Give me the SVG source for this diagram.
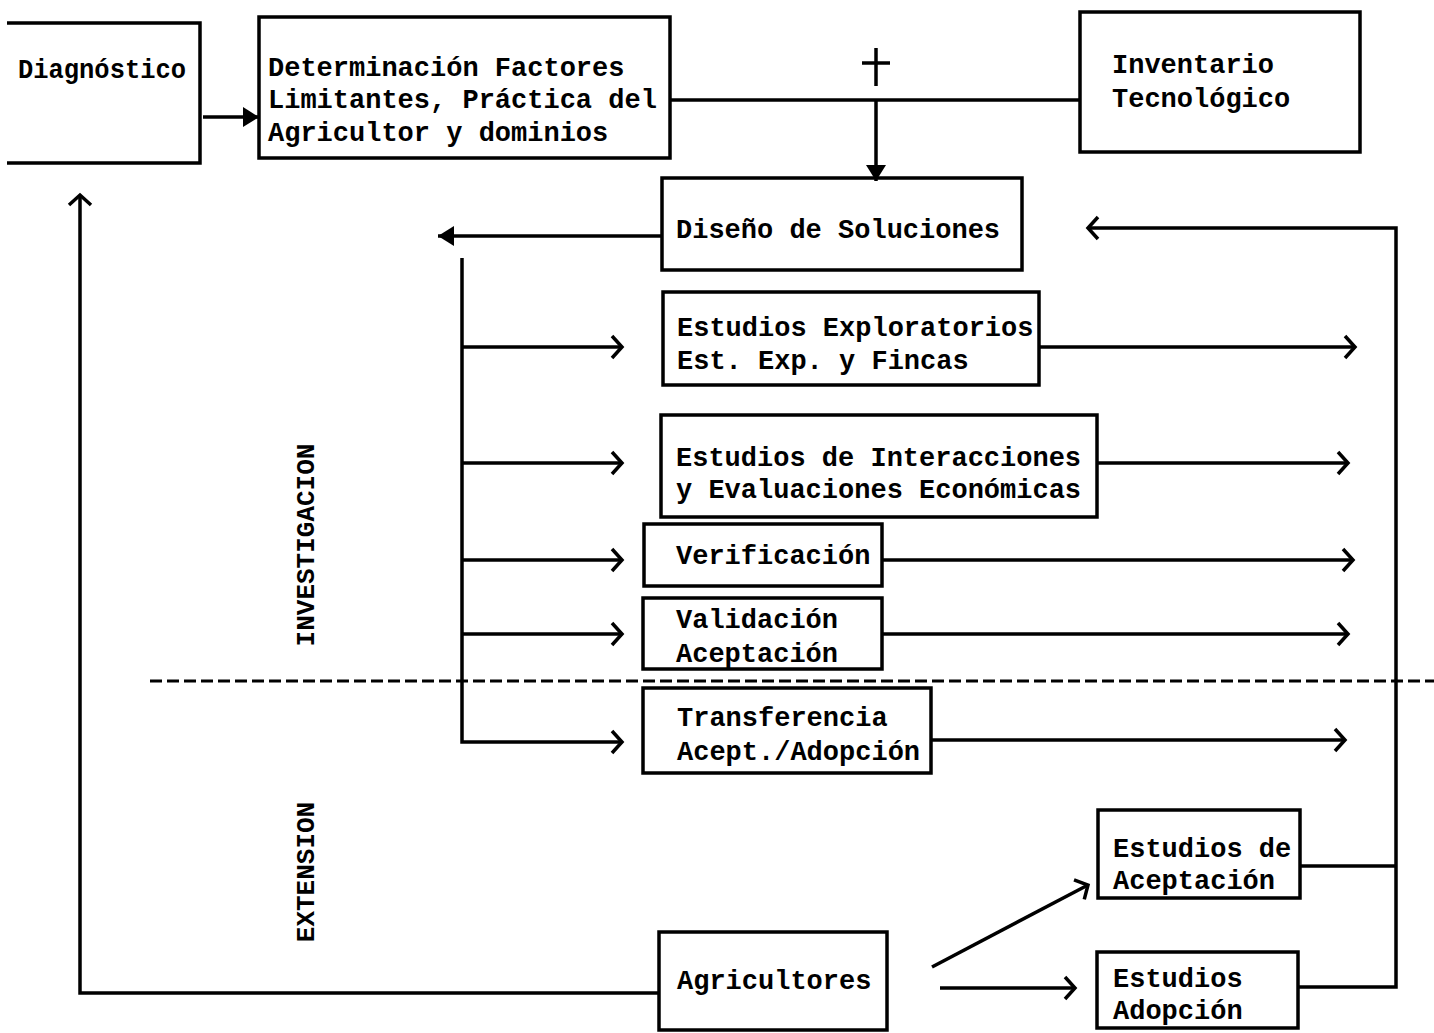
<svg xmlns="http://www.w3.org/2000/svg" width="1434" height="1033" viewBox="0 0 1434 1033">
<style>
.box{fill:none;stroke:#000;stroke-width:3.5}
.ln{fill:none;stroke:#000;stroke-width:3.5}
.t{font-family:"Liberation Mono","DejaVu Sans Mono",monospace;font-weight:bold;font-size:27px;fill:#000}
.v{font-family:"Liberation Mono","DejaVu Sans Mono",monospace;font-weight:bold;font-size:26px;fill:#000}
</style>
<defs>
<marker id="chev" markerUnits="userSpaceOnUse" markerWidth="20" markerHeight="28" refX="14" refY="12" orient="auto" viewBox="0 0 20 24">
<path d="M4,1 L14,12 L4,23" fill="none" stroke="#000" stroke-width="3.5"/>
</marker>
<marker id="tri" markerUnits="userSpaceOnUse" markerWidth="18" markerHeight="20" refX="16" refY="10" orient="auto" viewBox="0 0 18 20">
<path d="M0,0 L16,10 L0,20 z" fill="#000"/>
</marker>
</defs>
<rect width="1434" height="1033" fill="#fff"/>

<g id="connectors">
<line class="ln" x1="203" y1="117" x2="259" y2="117" marker-end="url(#tri)"/>
<line class="ln" x1="670" y1="100" x2="1080" y2="100"/>
<line class="ln" x1="876" y1="48" x2="876" y2="86"/>
<line class="ln" x1="862" y1="63" x2="890" y2="63"/>
<line class="ln" x1="876" y1="100" x2="876" y2="181" marker-end="url(#tri)"/>
<line class="ln" x1="662" y1="236" x2="438" y2="236" marker-end="url(#tri)"/>
<path class="ln" d="M462,258 V742 H622" marker-end="url(#chev)"/>
<line class="ln" x1="462" y1="347" x2="622" y2="347" marker-end="url(#chev)"/>
<line class="ln" x1="462" y1="463" x2="622" y2="463" marker-end="url(#chev)"/>
<line class="ln" x1="462" y1="560" x2="622" y2="560" marker-end="url(#chev)"/>
<line class="ln" x1="462" y1="634" x2="622" y2="634" marker-end="url(#chev)"/>
<line class="ln" x1="1039" y1="347" x2="1355" y2="347" marker-end="url(#chev)"/>
<line class="ln" x1="1097" y1="463" x2="1348" y2="463" marker-end="url(#chev)"/>
<line class="ln" x1="882" y1="560" x2="1353" y2="560" marker-end="url(#chev)"/>
<line class="ln" x1="882" y1="634" x2="1348" y2="634" marker-end="url(#chev)"/>
<line class="ln" x1="931" y1="740" x2="1345" y2="740" marker-end="url(#chev)"/>
<path class="ln" d="M1298,987 H1396 V228 H1088" marker-end="url(#chev)"/>
<line class="ln" x1="1300" y1="866" x2="1396" y2="866"/>
<path class="ln" d="M659,993 H80 V195" marker-end="url(#chev)"/>
<line class="ln" x1="932" y1="967" x2="1088" y2="885" marker-end="url(#chev)"/>
<line class="ln" x1="940" y1="988" x2="1075" y2="988" marker-end="url(#chev)"/>
<line x1="150" y1="681" x2="1434" y2="681" stroke="#000" stroke-width="3" stroke-dasharray="12,5"/>
</g>

<g id="diagnostico">
<path class="box" d="M7,23 H200 V163 H7"/>
<text class="t" x="18" y="78" textLength="168" lengthAdjust="spacingAndGlyphs">Diagnóstico</text>
</g>
<g id="determinacion">
<rect class="box" x="259" y="17" width="411" height="141"/>
<text class="t" x="268" y="76">Determinación Factores</text>
<text class="t" x="268" y="108">Limitantes, Práctica del</text>
<text class="t" x="268" y="141">Agricultor y dominios</text>
</g>
<g id="inventario">
<rect class="box" x="1080" y="12" width="280" height="140"/>
<text class="t" x="1112" y="73">Inventario</text>
<text class="t" x="1112" y="107">Tecnológico</text>
</g>
<g id="diseno">
<rect class="box" x="662" y="178" width="360" height="92"/>
<text class="t" x="676" y="238">Diseño de Soluciones</text>
</g>
<g id="exploratorios">
<rect class="box" x="663" y="292" width="376" height="93"/>
<text class="t" x="677" y="336">Estudios Exploratorios</text>
<text class="t" x="677" y="369">Est. Exp. y Fincas</text>
</g>
<g id="interacciones">
<rect class="box" x="661" y="415" width="436" height="102"/>
<text class="t" x="676" y="466">Estudios de Interacciones</text>
<text class="t" x="676" y="498">y Evaluaciones Económicas</text>
</g>
<g id="verificacion">
<rect class="box" x="644" y="524" width="238" height="62"/>
<text class="t" x="676" y="564">Verificación</text>
</g>
<g id="validacion">
<rect class="box" x="643" y="598" width="239" height="71"/>
<text class="t" x="676" y="628">Validación</text>
<text class="t" x="676" y="662">Aceptación</text>
</g>
<g id="transferencia">
<rect class="box" x="643" y="688" width="288" height="85"/>
<text class="t" x="677" y="726">Transferencia</text>
<text class="t" x="677" y="760">Acept./Adopción</text>
</g>
<g id="agricultores">
<rect class="box" x="659" y="932" width="228" height="98"/>
<text class="t" x="677" y="989">Agricultores</text>
</g>
<g id="aceptacion">
<rect class="box" x="1098" y="810" width="202" height="88"/>
<text class="t" x="1113" y="857">Estudios de</text>
<text class="t" x="1113" y="889">Aceptación</text>
</g>
<g id="adopcion">
<rect class="box" x="1097" y="952" width="201" height="76"/>
<text class="t" x="1113" y="987">Estudios</text>
<text class="t" x="1113" y="1019">Adopción</text>
</g>
<g id="label-investigacion">
<text class="v" transform="translate(314,545) rotate(-90)" text-anchor="middle">INVESTIGACION</text>
</g>
<g id="label-extension">
<text class="v" transform="translate(314,872) rotate(-90)" text-anchor="middle">EXTENSION</text>
</g>
</svg>
